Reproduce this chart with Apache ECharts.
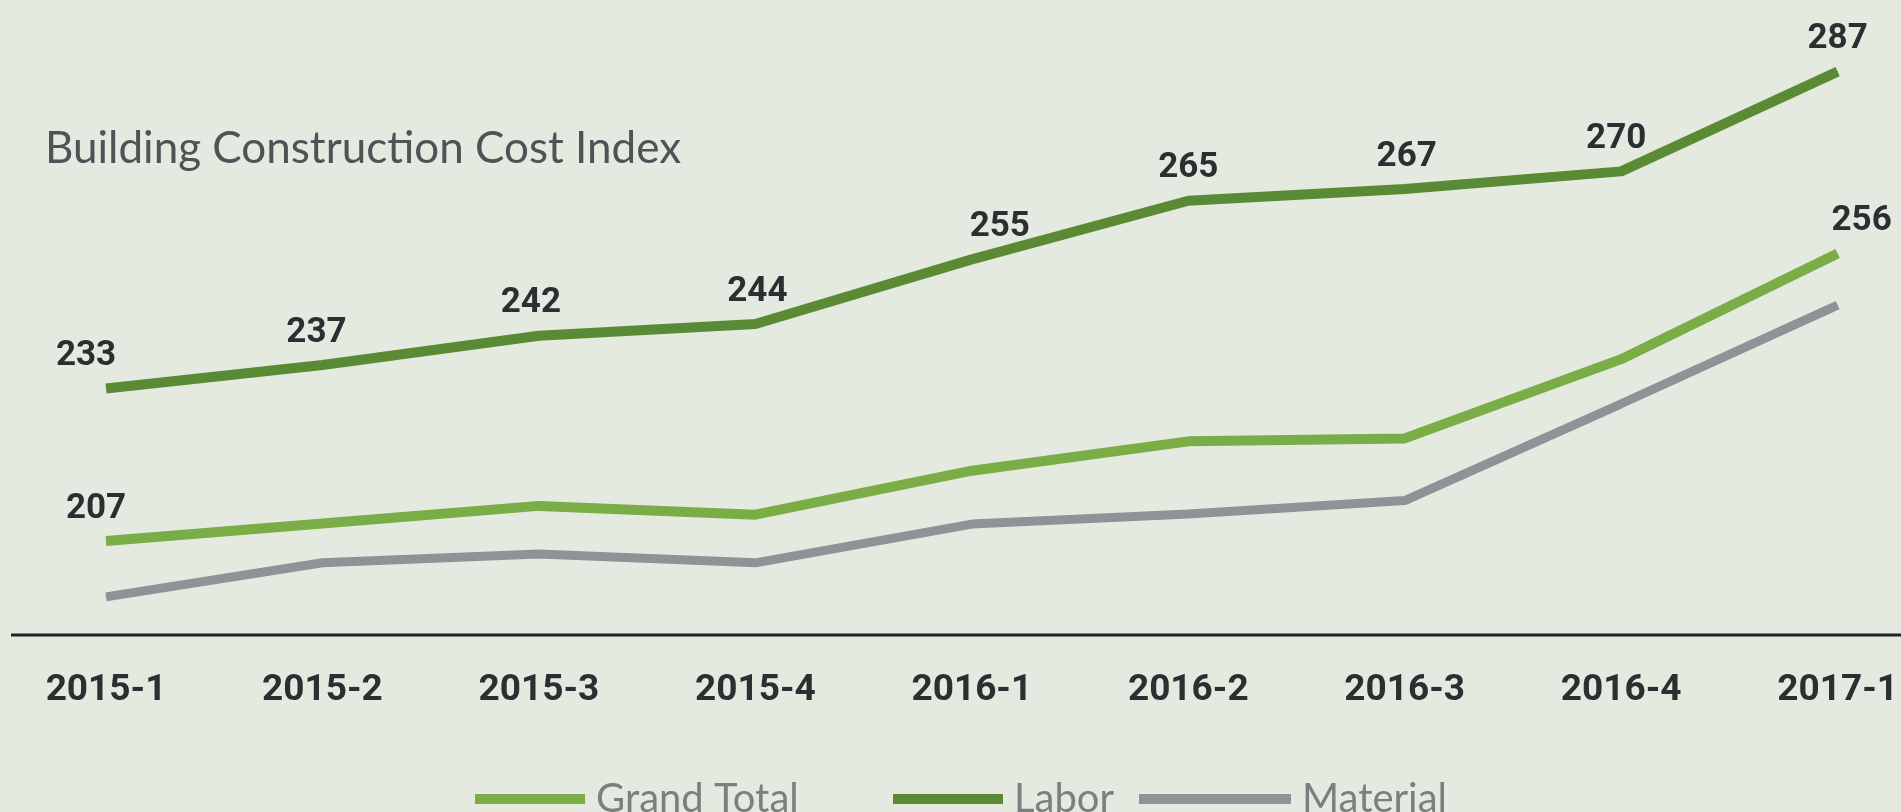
<!DOCTYPE html>
<html><head><meta charset="utf-8">
<script src="https://cdn.jsdelivr.net/npm/echarts@6/dist/echarts.min.js"></script>
<style>html,body{margin:0;padding:0;background:#e5eae1;} #c{width:1901px;height:812px;}</style>
</head><body><div id="c"></div>
<script>
const categories = ['2015-1','2015-2','2015-3','2015-4','2016-1','2016-2','2016-3','2016-4','2017-1'];
const grandTotal = [207, 210, 213, 211.5, 219, 224, 224.5, 238, 256];
const labor = [233, 237, 242, 244, 255, 265, 267, 270, 287];
const material = [197.5, 203.3, 204.8, 203.3, 209.9, 211.6, 213.9, 230.4, 247.2];
const grandTotalLabelIdx = [0, 8];
const seriesNames = ['Grand Total', 'Labor', 'Material'];
const titleText = 'Building Construction Cost Index';

// label nudges (style only, in px)
const laborLabelNudge = [-20, -6, -8, 2, 28, 0, 2, -5, 0];
const totalLabelNudge = [-10, 0, 0, 0, 0, 0, 0, 0, 24];

const NUM_FONT = "Roboto,'DejaVu Sans',sans-serif";
const TXT_FONT = "Lato,'Open Sans',sans-serif";
const C_TOTAL = '#7aad45', C_LABOR = '#5b8a35', C_MAT = '#8f9296';

const chart = echarts.init(document.getElementById('c'), null, {renderer: 'canvas'});
const labelStyle = {show: true, position: 'top', distance: 14, color: '#2c2f31',
  fontFamily: NUM_FONT, fontWeight: 'bold', fontSize: 35};
const legendText = {fontFamily: TXT_FONT, fontSize: 40, color: '#7c7e7f', padding: [0,0,0,6]};

const option = {
  backgroundColor: '#e5eae1',
  animation: false,
  title: {text: titleText, left: 40, top: 122,
    textStyle: {fontFamily: TXT_FONT, fontWeight: 'normal', fontSize: 44, color: '#505356'}},
  legend: [
    {data: [seriesNames[0]], left: 470, top: 774, icon: 'rect', itemWidth: 110, itemHeight: 10, textStyle: legendText},
    {data: [seriesNames[1]], left: 888, top: 774, icon: 'rect', itemWidth: 110, itemHeight: 10, textStyle: legendText},
    {data: [seriesNames[2]], left: 1134, top: 774, icon: 'rect', itemWidth: 152, itemHeight: 10, textStyle: legendText}
  ],
  grid: {left: 106, right: 61, top: 54, bottom: 177, containLabel: false},
  xAxis: {type: 'category', data: categories, boundaryGap: false,
    axisLine: {show: false}, axisTick: {show: false}, splitLine: {show: false},
    axisLabel: {margin: 37, color: '#2c2f31', fontFamily: NUM_FONT, fontWeight: 'bold', fontSize: 37}},
  yAxis: {type: 'value', min: 191, max: 290, show: false, splitLine: {show: false}},
  series: [
    {name: seriesNames[0], type: 'line', symbol: 'circle', symbolSize: 1,
      itemStyle: {color: C_TOTAL}, lineStyle: {width: 10, color: C_TOTAL, cap: 'butt'},
      data: grandTotal.map((v, i) => ({value: v,
        label: {show: grandTotalLabelIdx.includes(i), offset: [totalLabelNudge[i], 0]}})),
      label: labelStyle, emphasis: {disabled: true}, z: 3},
    {name: seriesNames[1], type: 'line', symbol: 'circle', symbolSize: 1,
      itemStyle: {color: C_LABOR}, lineStyle: {width: 10, color: C_LABOR, cap: 'butt'},
      data: labor.map((v, i) => ({value: v, label: {offset: [laborLabelNudge[i], 0]}})),
      label: labelStyle, emphasis: {disabled: true}, z: 3},
    {name: seriesNames[2], type: 'line', symbol: 'circle', symbolSize: 1,
      itemStyle: {color: C_MAT}, lineStyle: {width: 9, color: C_MAT, cap: 'butt'},
      data: material, label: {show: false}, emphasis: {disabled: true}, z: 2}
  ]
};
chart.setOption(option);
const axisY = chart.convertToPixel({yAxisIndex: 0}, 191);
chart.setOption({graphic: [{type: 'line', shape: {x1: 11, y1: axisY, x2: 1901, y2: axisY},
  style: {stroke: '#1e2220', lineWidth: 3}, silent: true}]});
</script></body></html>
